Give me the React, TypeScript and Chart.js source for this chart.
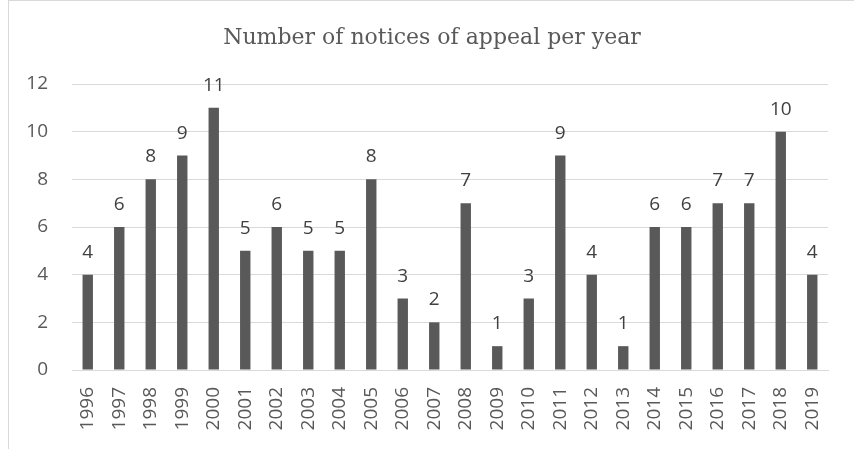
import React, { useEffect, useRef } from "react";
import { Chart, registerables } from "chart.js";

Chart.register(...registerables);

const years = ["1996","1997","1998","1999","2000","2001","2002","2003","2004","2005","2006","2007","2008","2009","2010","2011","2012","2013","2014","2015","2016","2017","2018","2019"];
const notices = [4,6,8,9,11,5,6,5,5,8,3,2,7,1,3,9,4,1,6,6,7,7,10,4];
const chartTitle = "Number of notices of appeal per year";

const titlePlugin = {
  id: "customTitle",
  afterDraw(chart: any) {
    const ctx = chart.ctx;
    ctx.save();
    ctx.font = '22px "DejaVu Serif"';
    ctx.fillStyle = "#595959";
    ctx.textAlign = "center";
    ctx.textBaseline = "alphabetic";
    ctx.fillText(chartTitle, 432, 44);
    ctx.restore();
  },
};

const valueLabels = {
  id: "valueLabels",
  afterDatasetsDraw(chart: any) {
    const ctx = chart.ctx;
    const meta = chart.getDatasetMeta(0);
    ctx.save();
    ctx.font = '19px "Open Sans"';
    ctx.fillStyle = "#404040";
    ctx.textAlign = "center";
    ctx.textBaseline = "alphabetic";
    meta.data.forEach((bar: any, i: number) => {
      ctx.fillText(String(notices[i]), bar.x, bar.y - 17);
    });
    ctx.restore();
  },
};

export default function App() {
  const ref = useRef<HTMLCanvasElement>(null);
  useEffect(() => {
    const chart = new Chart(ref.current!, {
      type: "bar",
      data: {
        labels: years,
        datasets: [
          {
            data: notices,
            backgroundColor: "#595959",
            categoryPercentage: 1,
            barPercentage: 0.33,
          },
        ],
      },
      options: {
        animation: false,
        responsive: false,
        maintainAspectRatio: false,
        layout: { padding: { left: 0, top: 84, right: 26, bottom: 0 } },
        plugins: { legend: { display: false }, tooltip: { enabled: false }, title: { display: false } },
        scales: {
          x: {
            grid: { display: false, drawTicks: false },
            border: { display: true, color: "#d9d9d9", width: 1 },
            ticks: {
              color: "#595959",
              font: { family: "Open Sans", size: 19 },
              minRotation: 90,
              maxRotation: 90,
              padding: 17,
              autoSkip: false,
            },
            afterFit: (s: any) => { s.height = 79; },
          },
          y: {
            min: 0,
            max: 12,
            ticks: {
              stepSize: 2,
              color: "#595959",
              font: { family: "Open Sans", size: 19 },
              padding: 24,
            },
            grid: { color: "#d9d9d9", lineWidth: 1, drawTicks: false },
            border: { display: false },
            afterFit: (s: any) => { s.width = 72; },
          },
        },
      },
      plugins: [titlePlugin, valueLabels],
    });
    return () => chart.destroy();
  }, []);
  return (
    <div style={{ position: "absolute", left: 0, top: 0, width: 854, height: 449, background: "#fff", overflow: "hidden" }}>
      <div style={{ position: "absolute", left: 8, top: 0, width: 900, height: 500, border: "1px solid #d9d9d9", boxSizing: "border-box" }} />
      <canvas ref={ref} width={854} height={449} style={{ position: "absolute", left: 0, top: 0, width: 854, height: 449 }} />
    </div>
  );
}
